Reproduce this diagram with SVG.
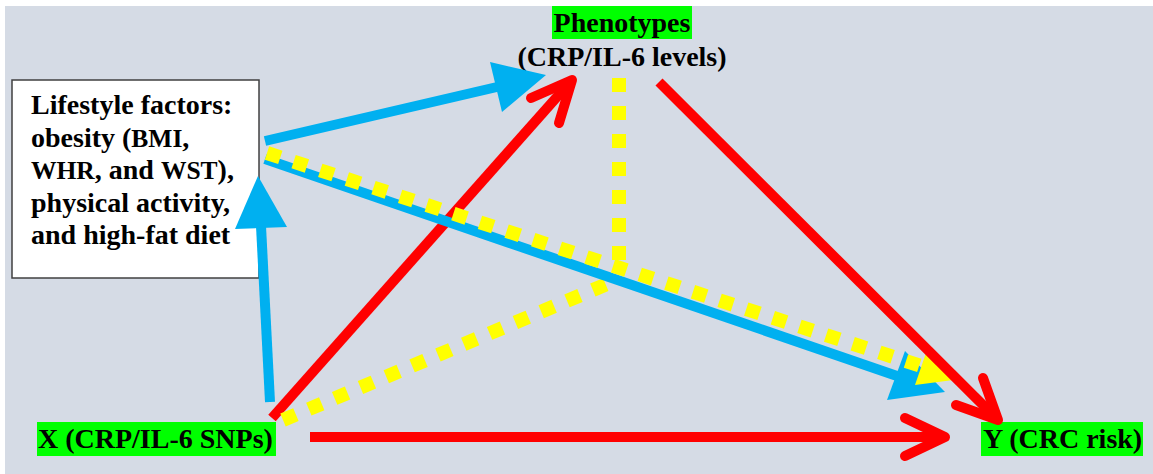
<svg xmlns="http://www.w3.org/2000/svg" width="1153" height="474" viewBox="0 0 1153 474">
<style>
.t{font-family:"Liberation Serif","Times New Roman",serif;font-weight:bold;font-size:28px;fill:#000}
.s{font-size:25.5px}
.red{stroke:#FF0000;stroke-width:10;fill:none}
.head{stroke:#FF0000;stroke-width:10;fill:none;stroke-linecap:round;stroke-linejoin:round}
.blue{stroke:#00B0F0;stroke-width:10;fill:none}
.bh{fill:#00B0F0}
.yel{stroke:#FFFF00;stroke-width:14;fill:none;stroke-dasharray:14 14}
.yh{fill:#FFFF00}
.g{fill:#00FF00}
</style>
<rect x="0" y="0" width="1153" height="474" fill="#FFFFFF"/>
<rect x="5" y="6" width="1148" height="468" fill="#D5DBE5"/>

<g id="lifestyle">
<rect x="12" y="80" width="247" height="198" fill="#FFFFFF" stroke="#404040" stroke-width="1.5"/>
<text class="t" x="31" y="114">Lifestyle factors:</text>
<text class="t" x="31" y="147">obesity (<tspan class="s">BMI</tspan>,</text>
<text class="t" x="31" y="179"><tspan class="s">WHR</tspan>, and <tspan class="s">WST</tspan>),</text>
<text class="t" x="31" y="212">physical activity,</text>
<text class="t" x="31" y="244">and high-fat diet</text>
</g>
<g id="phenotypes">
<rect class="g" x="552" y="6" width="140" height="33"/>
<text class="t" x="622" y="32" text-anchor="middle">Phenotypes</text>
<text class="t" x="622" y="66" text-anchor="middle">(CRP/IL-6 levels)</text>
</g>
<g id="x">
<rect class="g" x="37" y="422" width="239" height="34"/>
<text class="t" x="38" y="448">X (CRP/IL-6 SNPs)</text>
</g>
<g id="y">
<rect class="g" x="981" y="422" width="162" height="34"/>
<text class="t" x="983" y="448">Y (CRC risk)</text>
</g>

<g id="connectors">
<line class="red" x1="272" y1="418" x2="572" y2="80"/>
<polyline class="head" points="531,98 572,80 559,123"/>

<polyline class="yel" points="619,78 619,262"/>
<line class="yel" x1="283" y1="420" x2="612" y2="282"/>

<line class="blue" x1="270" y1="402" x2="261" y2="226"/>
<polygon class="bh" points="258,176 287,227 235,229"/>
<line class="blue" x1="265" y1="141" x2="497" y2="87"/>
<polygon class="bh" points="546,75 490,62 502,112"/>
<line class="blue" x1="265" y1="159" x2="897" y2="376"/>
<polygon class="bh" points="945,392 887,400 905,351"/>

<line class="yel" x1="267" y1="153" x2="921" y2="366"/>
<polygon class="yh" points="961,379 915,385 928,347"/>

<line class="red" x1="659" y1="82" x2="996" y2="418"/>
<polyline class="head" points="983,378 998,420 956,405"/>
<line class="red" x1="310" y1="437" x2="943" y2="437"/>
<polyline class="head" points="905,418 945,437 905,456"/>
</g>
</svg>
